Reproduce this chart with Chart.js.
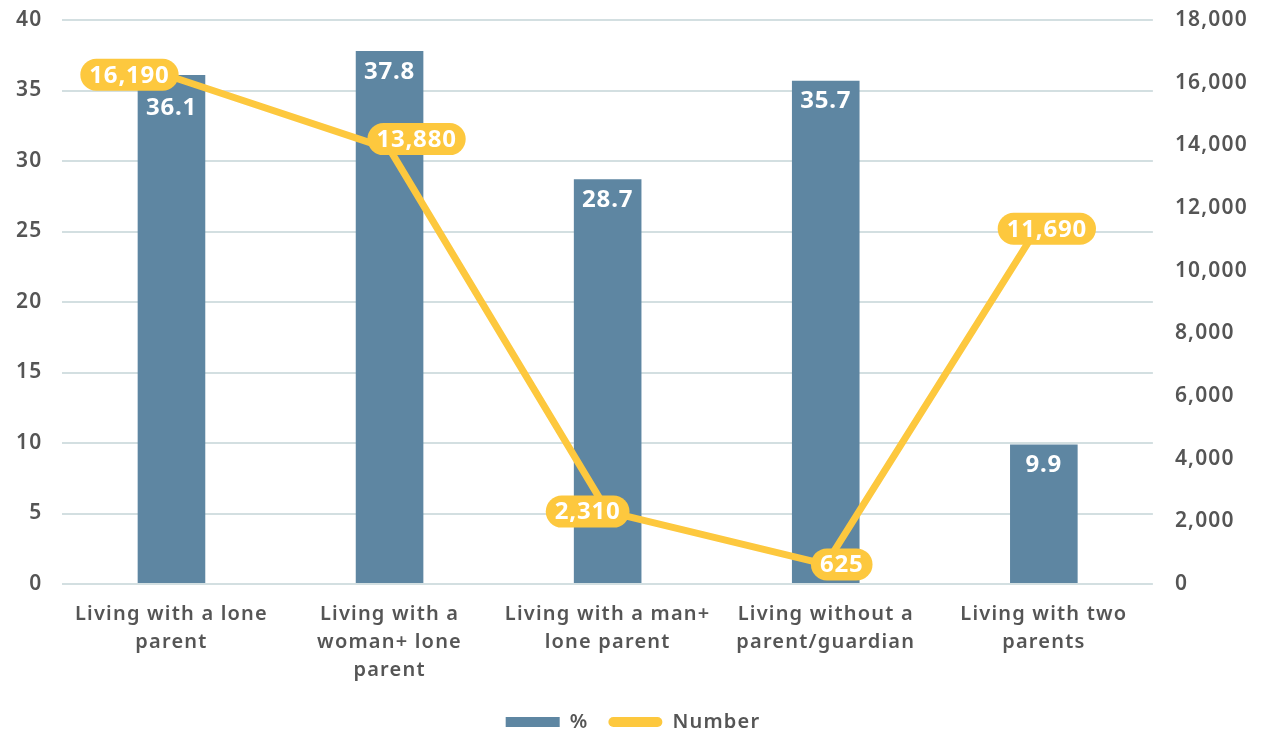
<!DOCTYPE html>
<html>
<head>
<meta charset="utf-8">
<script src="https://cdn.jsdelivr.net/npm/chart.js@4.4.1/dist/chart.umd.min.js"></script>
<style>
  html, body { margin: 0; padding: 0; background: #fff; }
  #chart { display: block; }
</style>
</head>
<body>
<canvas id="chart" width="1267" height="733"></canvas>
<script>
var categories = [
  ['Living with a lone', 'parent'],
  ['Living with a', 'woman+ lone', 'parent'],
  ['Living with a man+', 'lone parent'],
  ['Living without a', 'parent/guardian'],
  ['Living with two', 'parents']
];
var pctValues = [36.1, 37.8, 28.7, 35.7, 9.9];
var numberValues = [16190, 13880, 2310, 625, 11690];

var pctMax = 40, pctStep = 5;
var numberMax = 18000, numberStep = 2000;

var BLUE = '#5e86a2';
var YELLOW = '#fdc83e';
var TEXT = '#555555';
var GRID = '#d3dfe1';
var FONT = '"Noto Sans", "Open Sans", sans-serif';

function fmt(n) {
  return Number(n).toLocaleString('en-US');
}

// canvas resets its state whenever it is resized, so re-apply the spacing
var spacingPlugin = {
  id: 'spacing',
  beforeUpdate: function(chart) { chart.ctx.letterSpacing = '1.2px'; },
  beforeDraw: function(chart) { chart.ctx.letterSpacing = '1.2px'; }
};

// nudges for the number pills so they sit beside the line rather than on it
var pillShiftX = [-42, 27, -20, 16, 3];
var pillShiftY = [-2, -10, 0, 0, 11];

function pillRect(ctx, point, text, i) {
  var w = ctx.measureText(text).width + 18;
  var h = 32;
  var cx = point.x + pillShiftX[i];
  var cy = point.y + pillShiftY[i];
  return { x: cx - w / 2, y: cy - h / 2, w: w, h: h, cx: cx, cy: cy };
}

var labelPlugin = {
  id: 'valueLabels',
  afterDatasetDraw: function(chart, args) {
    var ctx = chart.ctx;
    var lineMeta = chart.getDatasetMeta(1);
    ctx.save();
    ctx.font = 'bold 24px ' + FONT;
    ctx.letterSpacing = '0.8px';
    ctx.textAlign = 'center';
    ctx.textBaseline = 'middle';
    ctx.fillStyle = '#fff';

    if (args.index === 0) {
      args.meta.data.forEach(function(bar, i) {
        var txt = pctValues[i].toFixed(1);
        var y = bar.y + 21;
        // keep the bar label clear of the line's pill
        var r = pillRect(ctx, lineMeta.data[i], fmt(numberValues[i]), i);
        var overlapX = bar.x + 25 > r.x && bar.x - 25 < r.x + r.w;
        if (overlapX && y - 10 < r.y + r.h && y + 10 > r.y) y = r.y + r.h + 17;
        ctx.fillText(txt, bar.x, y);
      });
    }

    if (args.index === 1) {
      args.meta.data.forEach(function(pt, i) {
        var txt = fmt(numberValues[i]);
        var r = pillRect(ctx, pt, txt, i);
        ctx.fillStyle = YELLOW;
        ctx.beginPath();
        ctx.roundRect(r.x, r.y, r.w, r.h, r.h / 2);
        ctx.fill();
        ctx.fillStyle = '#fff';
        ctx.fillText(txt, r.cx, r.cy + 1);
      });
    }
    ctx.restore();
  }
};

// tick padding is meant for the horizontal gap only, not the top of the plot
function trimPadding(scale) {
  scale.paddingTop = 20;
  scale.paddingBottom = 12;
}

var ctx = document.getElementById('chart');

new Chart(ctx, {
  type: 'bar',
  data: {
    labels: categories,
    datasets: [{
      type: 'bar',
      label: '%',
      data: pctValues,
      backgroundColor: BLUE,
      barPercentage: 0.31,
      categoryPercentage: 1,
      yAxisID: 'y',
      order: 1
    }, {
      type: 'line',
      label: 'Number',
      data: numberValues,
      borderColor: YELLOW,
      backgroundColor: YELLOW,
      borderWidth: 7,
      borderCapStyle: 'round',
      borderJoinStyle: 'round',
      pointRadius: 0,
      tension: 0,
      yAxisID: 'y1',
      order: 0
    }]
  },
  options: {
    responsive: false,
    animation: false,
    layout: {
      padding: { left: -4, right: -3, top: 0, bottom: -9 }
    },
    plugins: {
      tooltip: { enabled: false },
      legend: {
        position: 'bottom',
        reverse: true,
        labels: {
          color: TEXT,
          font: { family: FONT, size: 20, weight: '600' },
          boxWidth: 54,
          boxHeight: 10,
          padding: 20,
          useBorderRadius: true,
          generateLabels: function(chart) {
            var items = Chart.defaults.plugins.legend.labels.generateLabels(chart);
            items.forEach(function(it) {
              it.lineWidth = 0;
              if (it.datasetIndex === 1) it.borderRadius = 5;
            });
            return items;
          }
        }
      }
    },
    scales: {
      x: {
        grid: { display: false },
        border: { display: false },
        ticks: {
          color: TEXT,
          maxRotation: 0,
          padding: 8,
          font: { family: FONT, size: 20, weight: '600', lineHeight: 1.4 }
        }
      },
      y: {
        position: 'left',
        min: 0,
        max: pctMax,
        border: { display: false },
        grid: { color: GRID, lineWidth: 2, drawTicks: false },
        afterFit: trimPadding,
        ticks: {
          stepSize: pctStep,
          padding: 20,
          color: TEXT,
          font: { family: FONT, size: 21, weight: '600' }
        }
      },
      y1: {
        position: 'right',
        min: 0,
        max: numberMax,
        border: { display: false },
        grid: { display: false, drawTicks: false },
        afterFit: trimPadding,
        ticks: {
          stepSize: numberStep,
          padding: 22,
          color: TEXT,
          font: { family: FONT, size: 21, weight: '600' },
          callback: function(v) { return fmt(v); }
        }
      }
    }
  },
  plugins: [spacingPlugin, labelPlugin]
});
</script>
</body>
</html>
